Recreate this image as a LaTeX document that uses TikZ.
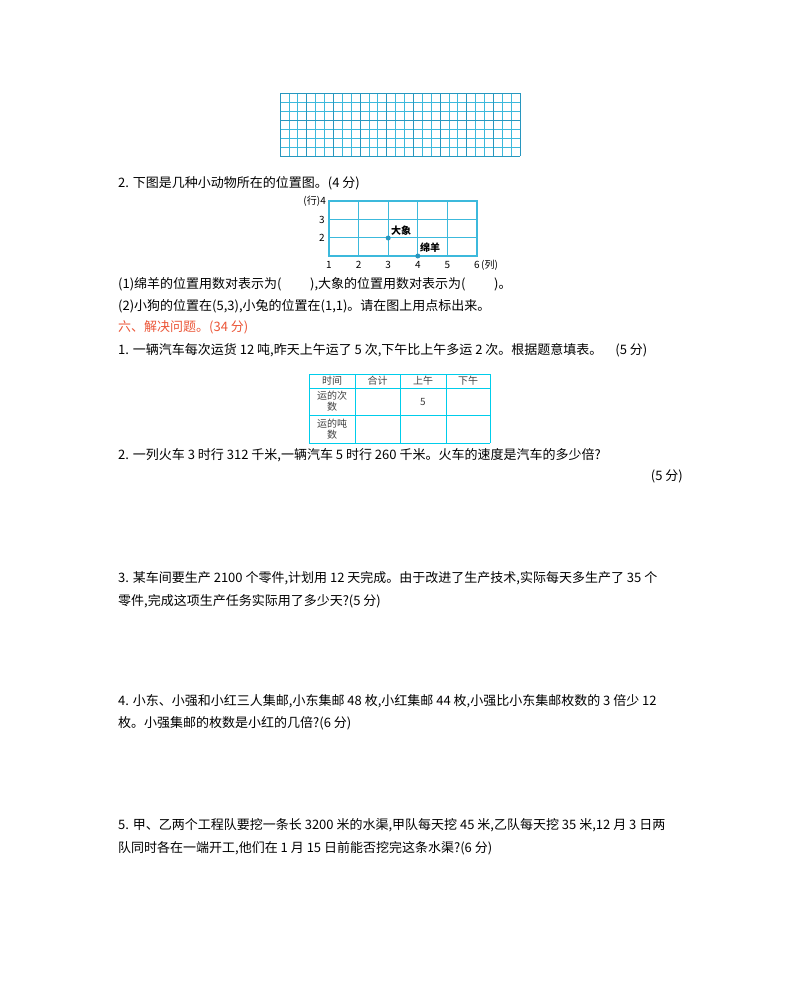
\documentclass[tikz,border=0pt]{standalone}
\usepackage{fontspec}
\setmainfont{Noto Sans CJK SC}
\begin{document}
\begin{tikzpicture}[x=1pt,y=-1pt,
 txt/.style={anchor=west,inner sep=0pt,font=\fontsize{13}{15}\selectfont},
 small/.style={inner sep=0pt,font=\fontsize{10}{11}\selectfont},
 tcell/.style={inner sep=0pt,font=\fontsize{10}{11}\selectfont,align=center,text=black!75}]
\definecolor{gc}{RGB}{60,185,220}
\definecolor{gd}{RGB}{40,150,190}
\definecolor{tc}{RGB}{0,205,235}
\definecolor{rc}{RGB}{235,85,55}
\useasboundingbox (0,0) rectangle (800,985);
% top grid
\foreach \i in {0,...,27} \draw[gc,line width=0.6] ({280+\i*240/27},93) -- ({280+\i*240/27},156);
\foreach \j in {0,...,7} \draw[gc,line width=0.6] (280,{93+\j*9}) -- (520,{93+\j*9});
\foreach \i in {0,3,...,27} \draw[gd,line width=0.9] ({280+\i*240/27},93) -- ({280+\i*240/27},156);
\draw[gd,line width=0.9] (280,93) -- (520,93) (280,156) -- (520,156) (280,120) -- (520,120);
\node[txt] (t1) at (118,183) {2. 下图是几种小动物所在的位置图。(4 分)};
% coordinate grid
\foreach \i in {0,...,5} \draw[gc,line width=0.8] ({329+\i*29.6},201) -- ({329+\i*29.6},256);
\foreach \j in {0,...,3} \draw[gc,line width=0.8] (329,{201+\j*18.33}) -- (477,{201+\j*18.33});
\draw[gc,line width=1.4] (329,201) rectangle (477,256);
\foreach \k in {1,...,5} \node[small] (x\k) at ({329+(\k-1)*29.6},265) {\k};
\node[small] (x6) at (477,265) {6};
\node[small,anchor=west] (lie) at (481,265) {(列)};
\node[small,anchor=east] (y4) at (326,201) {(行)4};
\node[small] (y3) at (322,219.5) {3};
\node[small] (y2) at (322,238) {2};
\fill[gd] (388.2,238) circle (2.5) coordinate (dx);
\fill[gd] (417.8,256) circle (2.5) coordinate (my);
\node[small,anchor=south west] (dxl) at (391,236) {\textbf{大象}};
\node[small,anchor=south west] (myl) at (420,253) {\textbf{绵羊}};
\node[txt] (t2) at (118,284) {(1)绵羊的位置用数对表示为(\hspace{2.2em}),大象的位置用数对表示为(\hspace{2.2em})。};
\node[txt] (t3) at (118,306) {(2)小狗的位置在(5,3),小兔的位置在(1,1)。请在图上用点标出来。};
\node[txt,text=rc] (t4) at (118,327) {六、解决问题。(34 分)};
\node[txt] (t5) at (118,350) {1. 一辆汽车每次运货 12 吨,昨天上午运了 5 次,下午比上午多运 2 次。根据题意填表。\hspace{1em}(5 分)};
% table
\foreach \x in {309,355,400,446,490} \draw[tc,line width=0.8] (\x,374) -- (\x,443);
\foreach \y in {374,388,415,443} \draw[tc,line width=0.8] (309,\y) -- (490,\y);
\node[tcell] (c1) at (332,381) {时间};
\node[tcell] (c2) at (377.5,381) {合计};
\node[tcell] (c3) at (423,381) {上午};
\node[tcell] (c4) at (468,381) {下午};
\node[tcell] (c5) at (332,401.5) {运的次\\数};
\node[tcell] (c6) at (423,401.5) {5};
\node[tcell] (c7) at (332,429) {运的吨\\数};
\node[txt] (t6) at (118,455) {2. 一列火车 3 时行 312 千米,一辆汽车 5 时行 260 千米。火车的速度是汽车的多少倍?};
\node[txt,anchor=east] (t7) at (683,476) {(5 分)};
\node[txt] (t8) at (118,578) {3. 某车间要生产 2100 个零件,计划用 12 天完成。由于改进了生产技术,实际每天多生产了 35 个};
\node[txt] (t9) at (118,601) {零件,完成这项生产任务实际用了多少天?(5 分)};
\node[txt] (t10) at (118,701) {4. 小东、小强和小红三人集邮,小东集邮 48 枚,小红集邮 44 枚,小强比小东集邮枚数的 3 倍少 12};
\node[txt] (t11) at (118,723) {枚。小强集邮的枚数是小红的几倍?(6 分)};
\node[txt] (t12) at (118,825) {5. 甲、乙两个工程队要挖一条长 3200 米的水渠,甲队每天挖 45 米,乙队每天挖 35 米,12 月 3 日两};
\node[txt] (t13) at (118,848) {队同时各在一端开工,他们在 1 月 15 日前能否挖完这条水渠?(6 分)};
\end{tikzpicture}
\end{document}
